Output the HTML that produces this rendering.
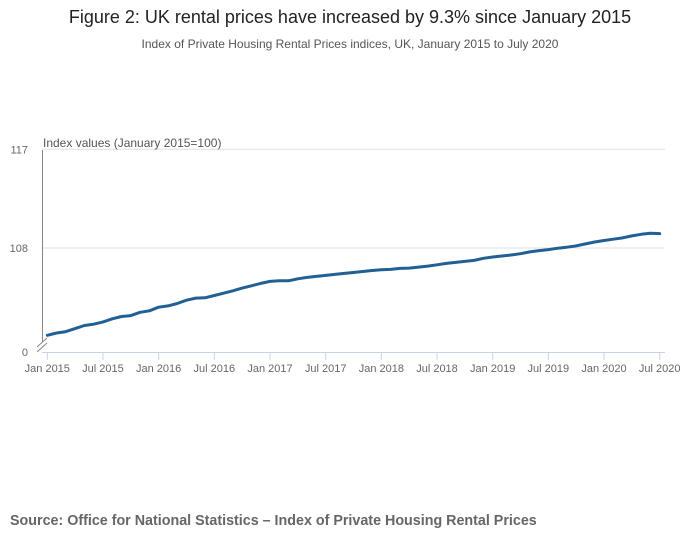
<!DOCTYPE html>
<html><head><meta charset="utf-8"><style>
body{margin:0;background:#fff;width:700px;height:549px;overflow:hidden;font-family:"Liberation Sans",sans-serif}
#title{position:absolute;left:0;width:700px;top:7px;text-align:center;font-size:18px;color:#222}
#subtitle{position:absolute;left:0;width:700px;top:37px;text-align:center;font-size:12px;color:#555}
#source{position:absolute;left:10px;top:513px;font-size:14.3px;font-weight:bold;color:#666}
svg{position:absolute;left:0;top:0}
</style></head><body>
<div id="title">Figure 2: UK rental prices have increased by 9.3% since January 2015</div>
<div id="subtitle">Index of Private Housing Rental Prices indices, UK, January 2015 to July 2020</div>
<svg id="chart" width="700" height="549"></svg>
<div id="source">Source: Office for National Statistics – Index of Private Housing Rental Prices</div>
<script>
const values=[100.04,100.25,100.38,100.65,100.93,101.05,101.26,101.54,101.75,101.84,102.14,102.27,
102.60,102.72,102.94,103.24,103.43,103.46,103.67,103.88,104.10,104.34,104.55,104.77,
104.95,105.01,105.01,105.19,105.32,105.41,105.50,105.59,105.68,105.77,105.86,105.95,
106.02,106.05,106.14,106.17,106.26,106.35,106.47,106.60,106.69,106.78,106.87,107.06,
107.18,107.27,107.36,107.48,107.64,107.76,107.85,107.98,108.07,108.19,108.37,108.55,
108.68,108.80,108.92,109.10,109.25,109.34,109.31];
const xTickLabels=["Jan 2015","Jul 2015","Jan 2016","Jul 2016","Jan 2017","Jul 2017","Jan 2018","Jul 2018","Jan 2019","Jul 2019","Jan 2020","Jul 2020"];
const yTicks=[108,117];
const yZeroLabel="0";
const NS="http://www.w3.org/2000/svg";
const svg=document.getElementById('chart');
function mk(t,a,p){const e=document.createElementNS(NS,t);for(const k in a)e.setAttribute(k,a[k]);(p||svg).appendChild(e);return e;}
const x0=47.3,dx=(659.7-47.3)/66;
function X(i){return x0+i*dx;}
function Y(v){return 248-(v-108)*(98.7/9);}
yTicks.forEach(t=>{
 const g=mk('line',{x1:42,x2:665,y1:Y(t),y2:Y(t),stroke:'#e0e0e0','stroke-width':1});
 
 
 const l=mk('text',{x:28,y:Y(t)+4,'font-size':11,fill:'#666','text-anchor':'end'});
 l.textContent=t;
 
 
});
const z=mk('text',{x:28,y:356,'font-size':11,fill:'#666','text-anchor':'end'});z.textContent=yZeroLabel;


const ya=mk('line',{x1:42.5,x2:42.5,y1:150,y2:342,stroke:'#888','stroke-width':1});


const br=mk('path',{d:'M37,347 L47,338 M37,352 L47,343',stroke:'#888','stroke-width':1,fill:'none'});


const xa=mk('line',{x1:42,x2:665,y1:352.5,y2:352.5,stroke:'#c8d3e6','stroke-width':1});


xTickLabels.forEach((s,i)=>{
 const x=X(i*6);
 const t=mk('line',{x1:x,x2:x,y1:352,y2:360,stroke:'#c8d3e6','stroke-width':1});
 
 
 const l=mk('text',{x:x,y:372,'font-size':11,fill:'#666','text-anchor':'middle'});
 l.textContent=s;
 
 
});
const at=mk('text',{x:43,y:147,'font-size':12,fill:'#555'});at.textContent='Index values (January 2015=100)';


const line=mk('path',{d:values.map((v,i)=>(i?'L':'M')+X(i).toFixed(1)+','+Y(v).toFixed(1)).join(' '),fill:'none',stroke:'#206095','stroke-width':3,'stroke-linejoin':'round','stroke-linecap':'round'});


</script>
</body></html>
